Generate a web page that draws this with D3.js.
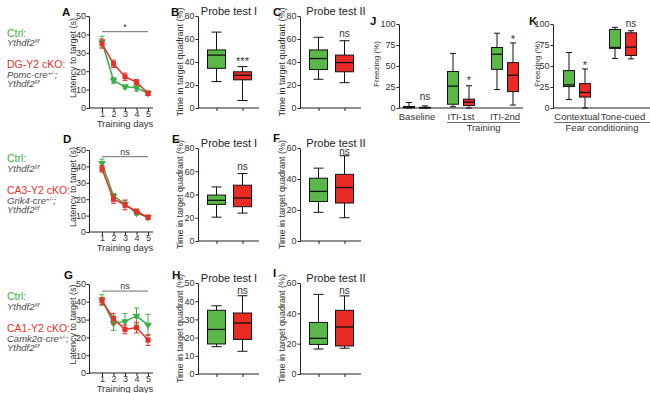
<!DOCTYPE html>
<html>
<head>
<meta charset="utf-8">
<script src="https://cdn.jsdelivr.net/npm/d3@7"></script>
<style>
body { margin: 0; background: #fff; }
svg { font-family: "Liberation Sans", Arial, sans-serif; }
.axis text { font-size: 9px; fill: #333; }
.axis path, .axis line { stroke: #222; stroke-width: 1; }
</style>
</head>
<body>
<div id="fig"></div>
<script>
// latency to target (s), mean and sem per training day
var days = [1, 2, 3, 4, 5];

var dgCtrlMean = [36, 15, 11.5, 11, 8];
var dgCtrlSem  = [3, 1.5, 1, 1.8, 1];
var dgKoMean   = [35, 24, 17, 14, 8];
var dgKoSem    = [2.5, 2, 2, 1.5, 1.2];

var ca3CtrlMean = [42, 22, 17, 11.5, 9];
var ca3CtrlSem  = [2.5, 1.5, 2, 1.2, 1.2];
var ca3KoMean   = [38.5, 20, 16.5, 12.5, 9];
var ca3KoSem    = [2, 2.5, 3, 1.5, 1.2];

var ca1CtrlMean = [41, 28, 29, 32, 27];
var ca1CtrlSem  = [3, 4, 4.5, 4.5, 6];
var ca1KoMean   = [40.5, 30.5, 24.5, 25.5, 18.5];
var ca1KoSem    = [2, 3, 2.5, 3, 3];

// box stats [min, q1, median, q3, max], ctrl then cKO
var dgProbe1  = [[23, 34.5, 46, 50.5, 66], [6.5, 24.5, 28.5, 31.5, 36]];
var dgProbe2  = [[25, 33.5, 43, 50.5, 61.5], [22, 31.5, 39.5, 46, 58.5]];
var ca3Probe1 = [[20.5, 31.5, 35, 39.5, 46.5], [24, 29.5, 37, 48, 58]];
var ca3Probe2 = [[18.5, 25.5, 32, 40.5, 47], [15, 24.5, 34.5, 43, 55]];
var ca1Probe1 = [[15, 16.5, 24.5, 35, 37.5], [12.5, 19, 28, 33.5, 43]];
var ca1Probe2 = [[16.5, 19.5, 23.5, 34, 52.5], [17, 18.5, 31, 42, 51.5]];

// freezing (%)
var trainCats = ["Baseline", "ITI-1st", "ITI-2nd"];
var trainCtrl = [[0, 0.3, 1, 1.8, 6.5], [1.5, 4.5, 26, 43.5, 65], [22, 46, 64, 72, 89]];
var trainKo   = [[0, 0, 0.3, 0.8, 2.5], [0, 3, 7, 10.5, 26.5], [3.5, 19.5, 39, 54, 77.5]];
var trainMarks = ["ns", "*", "*"];

var fearCats = ["Contextual", "Tone-cued"];
var fearCtrl = [[10, 25.5, 27.5, 44.5, 66], [59, 71, 72, 93.5, 96]];
var fearKo   = [[0, 13, 18.5, 29, 46.5], [58.5, 62.5, 72.5, 89.5, 92]];
var fearMarks = ["*", "ns"];

var green = "#3aae49", red = "#e8302b";
var greenFill = "#5ab848", redFill = "#ec2a25";

var svg = d3.select("#fig").append("svg")
  .attr("width", 650)
  .attr("height", 393);

svg.append("rect").attr("width", 650).attr("height", 393).attr("fill", "#fff");

function letter(t, x, y) {
  svg.append("text").attr("x", x).attr("y", y)
    .attr("font-size", 11.5).attr("font-weight", "bold").attr("fill", "#111")
    .text(t);
}

function yLabel(t, x, yc, fs) {
  svg.append("text")
    .attr("transform", "translate(" + x + "," + yc + ") rotate(-90)")
    .attr("text-anchor", "middle").attr("dy", "0.35em")
    .attr("font-size", fs || 9).attr("fill", "#333")
    .text(t);
}

function lineChart(o) {
  var x = d3.scaleLinear().domain([1, 5]).range([o.x0 + 13, o.x0 + 59]);
  var y = d3.scaleLinear().domain([0, 50]).range([o.bottom, o.top]);

  svg.append("g").attr("class", "axis")
    .attr("transform", "translate(" + o.x0 + ",0)")
    .call(d3.axisLeft(y).tickValues([0, 10, 20, 30, 40, 50]).tickSize(2.5).tickSizeOuter(0).tickPadding(0.5))
    .selectAll("text").attr("font-size", 8.5);

  var xg = svg.append("g").attr("class", "axis")
    .attr("transform", "translate(0," + o.bottom + ")")
    .call(d3.axisBottom(x).tickValues(days).tickFormat(d3.format("d")).tickSize(3).tickSizeOuter(0).tickPadding(0));
  xg.select(".domain").attr("d", "M" + o.x0 + ",0H" + (o.x0 + 64));
  xg.selectAll("text").attr("font-size", 9);

  svg.append("text").attr("x", x(3)).attr("y", o.bottom + 19)
    .attr("text-anchor", "middle").attr("font-size", 9.5).attr("fill", "#333")
    .text("Training days");

  yLabel("Latency to target (s)", o.x0 - 16, (o.top + o.bottom) / 2 - 4);

  // significance bar
  svg.append("line")
    .attr("x1", x(1)).attr("x2", x(5))
    .attr("y1", y(o.sig)).attr("y2", y(o.sig))
    .attr("stroke", "#888").attr("stroke-width", 1.2);
  svg.append("text").attr("x", x(3)).attr("y", y(o.sig) - 2)
    .attr("text-anchor", "middle").attr("font-size", 9).attr("fill", "#333")
    .text(o.sigText);

  var series = [
    {mean: o.ctrl, sem: o.ctrlSem, color: green, sym: "tri"},
    {mean: o.ko, sem: o.koSem, color: red, sym: "sq"}
  ];

  series.forEach(function(s) {
    var pts = days.map(function(d, i) { return {day: d, m: s.mean[i], e: s.sem[i]}; });
    var g = svg.append("g");
    g.append("path")
      .attr("d", d3.line().x(d => x(d.day)).y(d => y(d.m))(pts))
      .attr("fill", "none").attr("stroke", s.color).attr("stroke-width", 1.5);
    var eb = g.selectAll(".eb").data(pts).enter().append("g");
    eb.append("line")
      .attr("x1", d => x(d.day)).attr("x2", d => x(d.day))
      .attr("y1", d => y(d.m - d.e)).attr("y2", d => y(d.m + d.e))
      .attr("stroke", s.color).attr("stroke-width", 1);
    [-1, 1].forEach(function(k) {
      eb.append("line")
        .attr("x1", d => x(d.day) - 2.5).attr("x2", d => x(d.day) + 2.5)
        .attr("y1", d => y(d.m + k * d.e)).attr("y2", d => y(d.m + k * d.e))
        .attr("stroke", s.color).attr("stroke-width", 1);
    });
    var sym = s.sym === "tri" ? d3.symbol().type(d3.symbolTriangle).size(26)
                              : d3.symbol().type(d3.symbolSquare).size(26);
    g.selectAll(".pt").data(pts).enter().append("path")
      .attr("d", sym)
      .attr("transform", d => "translate(" + x(d.day) + "," + y(d.m) + ")" + (s.sym === "tri" ? " rotate(180)" : ""))
      .attr("fill", s.color);
  });
}

function drawBox(x, w, cap, st, y, fill) {
  var g = svg.append("g").attr("stroke", "#111").attr("stroke-width", 1);
  g.append("line").attr("x1", x).attr("x2", x).attr("y1", y(st[0])).attr("y2", y(st[1]));
  g.append("line").attr("x1", x).attr("x2", x).attr("y1", y(st[3])).attr("y2", y(st[4]));
  g.append("line").attr("x1", x - cap / 2).attr("x2", x + cap / 2).attr("y1", y(st[0])).attr("y2", y(st[0]));
  g.append("line").attr("x1", x - cap / 2).attr("x2", x + cap / 2).attr("y1", y(st[4])).attr("y2", y(st[4]));
  g.append("rect").attr("x", x - w / 2).attr("width", w)
    .attr("y", y(st[3])).attr("height", Math.max(0.5, y(st[1]) - y(st[3])))
    .attr("fill", fill);
  g.append("line").attr("x1", x - w / 2).attr("x2", x + w / 2)
    .attr("y1", y(st[2])).attr("y2", y(st[2])).attr("stroke-width", 1.3);
}

var groups = ["Ctrl", "cKO"];

function probeChart(o) {
  var y = d3.scaleLinear().domain([0, o.max]).range([o.bottom, o.top]);
  var x = d3.scalePoint().domain(groups).range([o.x0 + 18.5, o.x0 + 44.5]);

  svg.append("g").attr("class", "axis")
    .attr("transform", "translate(" + o.x0 + ",0)")
    .call(d3.axisLeft(y).tickValues(d3.range(0, o.max + 1, o.step)).tickSize(2.5).tickSizeOuter(0).tickPadding(1))
    .selectAll("text").attr("font-size", 9.5);

  var xg = svg.append("g").attr("class", "axis")
    .attr("transform", "translate(0," + o.bottom + ")")
    .call(d3.axisBottom(x).tickSize(3).tickSizeOuter(0).tickFormat(""));
  xg.select(".domain").attr("d", "M" + o.x0 + ",0H" + (o.x0 + 61));

  drawBox(x("Ctrl"), 18, 10, o.data[0], y, greenFill);
  drawBox(x("cKO"), 18, 10, o.data[1], y, redFill);

  svg.append("text").attr("x", x("cKO")).attr("y", y(o.markAt))
    .attr("text-anchor", "middle").attr("font-size", o.mark === "ns" ? 10 : 11).attr("fill", "#333")
    .text(o.mark);

  svg.append("text").attr("x", o.x0 + o.titleDx).attr("y", o.top - 1.5)
    .attr("text-anchor", "middle").attr("font-size", 11).attr("fill", "#222")
    .text(o.title);

  yLabel("Time in target quadrant (%)", o.x0 - 18, (o.top + o.bottom) / 2);
}

function freezeChart(o) {
  var y = d3.scaleLinear().domain([0, 100]).range([o.bottom, o.top]);
  var x = d3.scalePoint().domain(o.cats).range(o.span);

  svg.append("g").attr("class", "axis")
    .attr("transform", "translate(" + o.x0 + ",0)")
    .call(d3.axisLeft(y).tickValues([0, 25, 50, 75, 100]).tickSize(2.5).tickSizeOuter(0).tickPadding(1))
    .selectAll("text").attr("font-size", 9);

  svg.append("line").attr("x1", o.x0).attr("x2", o.x0 + o.w)
    .attr("y1", o.bottom).attr("y2", o.bottom)
    .attr("stroke", "#222");

  o.cats.forEach(function(c, i) {
    var cx = x(c);
    drawBox(cx - 8, 11, 6, o.ctrl[i], y, greenFill);
    drawBox(cx + 8, 11, 6, o.ko[i], y, redFill);
    svg.append("text").attr("x", cx + 8).attr("y", y(o.markAt[i]))
      .attr("text-anchor", "middle").attr("font-size", o.marks[i] === "ns" ? 10 : 11).attr("fill", "#333")
      .text(o.marks[i]);
    svg.append("text").attr("x", cx).attr("y", o.bottom + 12)
      .attr("text-anchor", "middle").attr("font-size", 9.5).attr("fill", "#333")
      .text(c);
  });

  svg.append("line").attr("x1", o.bracket[0]).attr("x2", o.bracket[1])
    .attr("y1", o.bottom + 14.5).attr("y2", o.bottom + 14.5)
    .attr("stroke", "#444").attr("stroke-width", 0.8);
  svg.append("text").attr("x", (o.bracket[0] + o.bracket[1]) / 2).attr("y", o.bottom + 23)
    .attr("text-anchor", "middle").attr("font-size", 9.5).attr("fill", "#333")
    .text(o.group);

  yLabel("Freezing (%)", o.x0 - o.labDx, (o.top + o.bottom) / 2 - 2, 8);
}

function legend(y0, ko, cre) {
  svg.append("text").attr("x", 7).attr("y", y0)
    .attr("font-size", 10.5).attr("fill", green).text("Ctrl:");
  gene(7, y0 + 9.5, "Ythdf2", "f/f", "");
  svg.append("text").attr("x", 7).attr("y", y0 + 31.5)
    .attr("font-size", 10.5).attr("fill", red).text(ko);
  gene(7, y0 + 41.5, cre, "+/-", ";");
  gene(7, y0 + 50.5, "Ythdf2", "f/f", "");
}

function gene(x, y, name, sup, tail) {
  var t = svg.append("text").attr("x", x).attr("y", y)
    .attr("font-size", 9.5).attr("font-style", "italic").attr("fill", "#4a4a4a");
  t.append("tspan").text(name);
  t.append("tspan").attr("font-size", 6).attr("dy", -3).text(sup);
  if (tail) t.append("tspan").attr("dy", 3).text(tail);
}

// row 1
letter("A", 62, 16);
lineChart({x0: 89, top: 16, bottom: 108, ctrl: dgCtrlMean, ctrlSem: dgCtrlSem,
           ko: dgKoMean, koSem: dgKoSem, sig: 41.5, sigText: "*"});
letter("B", 171, 16);
probeChart({x0: 198, top: 16, bottom: 108, max: 80, step: 20, data: dgProbe1,
            mark: "***", markAt: 37, title: "Probe test I", titleDx: 31});
letter("C", 273, 16);
probeChart({x0: 300, top: 16, bottom: 108, max: 80, step: 20, data: dgProbe2,
            mark: "ns", markAt: 62, title: "Probe test II", titleDx: 36});
letter("J", 370, 25);
freezeChart({x0: 399, w: 124, top: 24, bottom: 108, cats: trainCats, span: [417, 505],
             ctrl: trainCtrl, ko: trainKo, marks: trainMarks, markAt: [9, 28, 77],
             bracket: [447, 520], group: "Training", labDx: 23});
letter("K", 529, 25);
freezeChart({x0: 553, w: 97, top: 24, bottom: 108, cats: fearCats, span: [577, 623],
             ctrl: fearCtrl, ko: fearKo, marks: fearMarks, markAt: [47, 97],
             bracket: [554, 650], group: "Fear conditioning", labDx: 16});

// row 2
letter("D", 63, 143);
lineChart({x0: 89, top: 150, bottom: 232, ctrl: ca3CtrlMean, ctrlSem: ca3CtrlSem,
           ko: ca3KoMean, koSem: ca3KoSem, sig: 46, sigText: "ns"});
letter("E", 172, 143);
probeChart({x0: 198, top: 148, bottom: 241, max: 80, step: 20, data: ca3Probe1,
            mark: "ns", markAt: 61, title: "Probe test I", titleDx: 31});
letter("F", 273, 142);
probeChart({x0: 300, top: 148, bottom: 241, max: 60, step: 20, data: ca3Probe2,
            mark: "ns", markAt: 55.5, title: "Probe test II", titleDx: 36});

// row 3
letter("G", 64, 279);
lineChart({x0: 89, top: 284, bottom: 373, ctrl: ca1CtrlMean, ctrlSem: ca1CtrlSem,
           ko: ca1KoMean, koSem: ca1KoSem, sig: 46, sigText: "ns"});
letter("H", 172, 279);
probeChart({x0: 198, top: 283, bottom: 374, max: 50, step: 10, data: ca1Probe1,
            mark: "ns", markAt: 44, title: "Probe test I", titleDx: 31});
letter("I", 273, 277);
probeChart({x0: 300, top: 283, bottom: 374, max: 60, step: 20, data: ca1Probe2,
            mark: "ns", markAt: 53, title: "Probe test II", titleDx: 36});

// genotype legends
legend(36.5, "DG-Y2 cKO:", "Pomc-cre");
legend(162, "CA3-Y2 cKO:", "Grik4-cre");
legend(300, "CA1-Y2 cKO:", "Camk2\u03b1-cre");
</script>
</body>
</html>
